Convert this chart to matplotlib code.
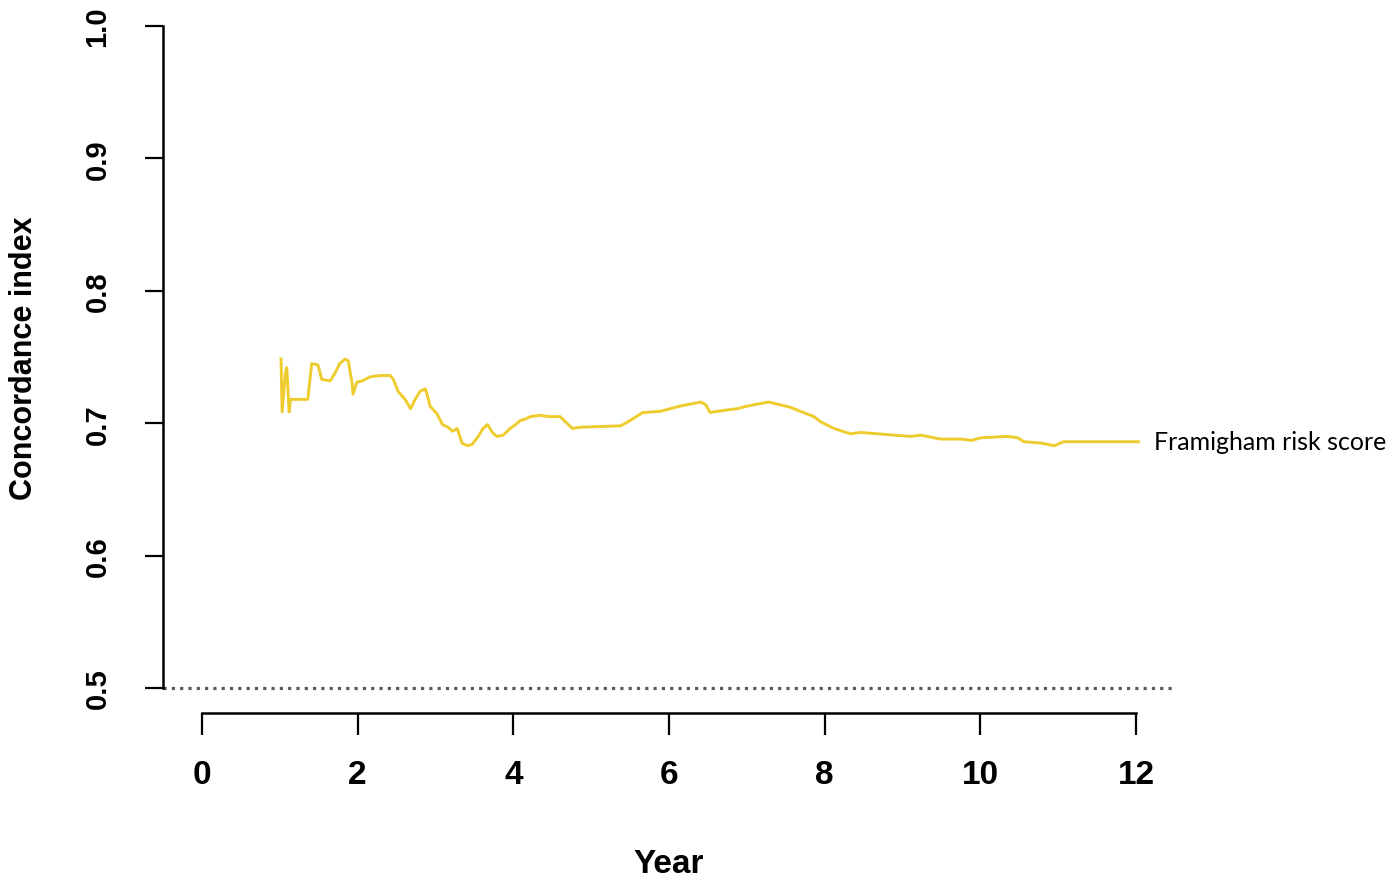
#!/usr/bin/env python3
"""
Concordance index over time for the Framingham risk score
"""

import matplotlib
matplotlib.use('Agg')
import matplotlib.pyplot as plt

# Values
years = [1.016, 1.03, 1.07, 1.09, 1.12, 1.14, 1.36, 1.41, 1.49, 1.54, 1.65, 1.72, 1.77,
         1.84, 1.88, 1.93, 1.94, 1.99, 2.06, 2.16, 2.29, 2.42, 2.46, 2.52, 2.61, 2.68,
         2.74, 2.80, 2.87, 2.91, 2.93, 3.02, 3.09, 3.16, 3.22, 3.28, 3.34, 3.41, 3.47,
         3.55, 3.61, 3.67, 3.73, 3.79, 3.87, 3.96, 4.03, 4.09, 4.15, 4.22, 4.35, 4.45,
         4.60, 4.76, 4.86, 5.38, 5.50, 5.66, 5.89, 6.15, 6.41, 6.47, 6.53, 6.62, 6.88,
         7.01, 7.28, 7.56, 7.73, 7.86, 7.95, 8.12, 8.33, 8.46, 8.68, 8.89, 9.11, 9.23,
         9.32, 9.49, 9.75, 9.88, 10.01, 10.35, 10.48, 10.56, 10.78, 10.95, 11.07, 11.46,
         12.03]
cindex = [0.7485, 0.7085, 0.737, 0.742, 0.7085, 0.718, 0.718, 0.745, 0.744, 0.733, 0.732,
          0.739, 0.745, 0.7485, 0.747, 0.730, 0.722, 0.731, 0.732, 0.735, 0.736, 0.736,
          0.733, 0.724, 0.718, 0.711, 0.718, 0.724, 0.726, 0.718, 0.713, 0.707, 0.699,
          0.697, 0.694, 0.696, 0.685, 0.683, 0.684, 0.690, 0.696, 0.699, 0.693, 0.690,
          0.691, 0.696, 0.699, 0.702, 0.703, 0.705, 0.706, 0.705, 0.705, 0.696, 0.697,
          0.698, 0.702, 0.708, 0.709, 0.713, 0.716, 0.714, 0.708, 0.709, 0.711, 0.713,
          0.716, 0.712, 0.708, 0.705, 0.701, 0.696, 0.692, 0.693, 0.692, 0.691, 0.690,
          0.691, 0.690, 0.688, 0.688, 0.687, 0.689, 0.690, 0.689, 0.686, 0.685, 0.683,
          0.686, 0.686, 0.686]
series_name = 'Framigham risk score'

x_ticks = [0, 2, 4, 6, 8, 10, 12]
y_ticks = [0.5, 0.6, 0.7, 0.8, 0.9, 1.0]
reference_line = 0.5

fig = plt.figure(figsize=(13.94, 8.79), dpi=100)
ax = fig.add_axes([163 / 1394, 1 - 689 / 879, 1012 / 1394, 662 / 879])

# Curve
ax.plot(years, cindex, color='#EFCC2E', linewidth=2.1, solid_joinstyle='round')

# Dotted reference at 0.5 (not clipped, it sits on the axes edge)
ax.axhline(reference_line, color='#5a5a5a', linewidth=2.3, linestyle=(0, (1, 1.6)),
           zorder=1, clip_on=False)

# Label at the end of the line
ax.text(years[-1] + 0.2, cindex[-1], series_name, fontsize=18, family='Lato',
        va='center', ha='left', clip_on=False)

ax.set_xlim(-0.5, 12.5)
ax.set_ylim(0.5, 1.0)

# R-style axes: bottom axis pushed down and limited to the tick range
for side in ['top', 'right']:
    ax.spines[side].set_visible(False)
ax.spines['bottom'].set_position(('outward', 18))
ax.spines['bottom'].set_bounds(0, 12)
ax.spines['left'].set_bounds(0.5, 1.0)
ax.spines['bottom'].set_linewidth(1.8)
ax.spines['left'].set_linewidth(1.8)

ax.set_xticks(x_ticks)
ax.set_xticklabels([str(t) for t in x_ticks], fontsize=24, fontweight='bold', family='Liberation Sans')
ax.set_yticks(y_ticks)
ax.set_yticklabels(['%.1f' % t for t in y_ticks], fontsize=21, fontweight='bold',
                   family='Liberation Sans', rotation=90, va='center')
ax.tick_params(axis='x', length=16, width=1.6, pad=17)
ax.tick_params(axis='y', length=13, width=1.6, pad=24)

ax.set_xlabel('Year', fontsize=24, fontweight='bold', family='Liberation Sans', labelpad=42)
ax.set_ylabel('Concordance index', fontsize=22, fontweight='bold', family='Liberation Sans', labelpad=32)

plt.savefig('out.png', dpi=100)
plt.close()
